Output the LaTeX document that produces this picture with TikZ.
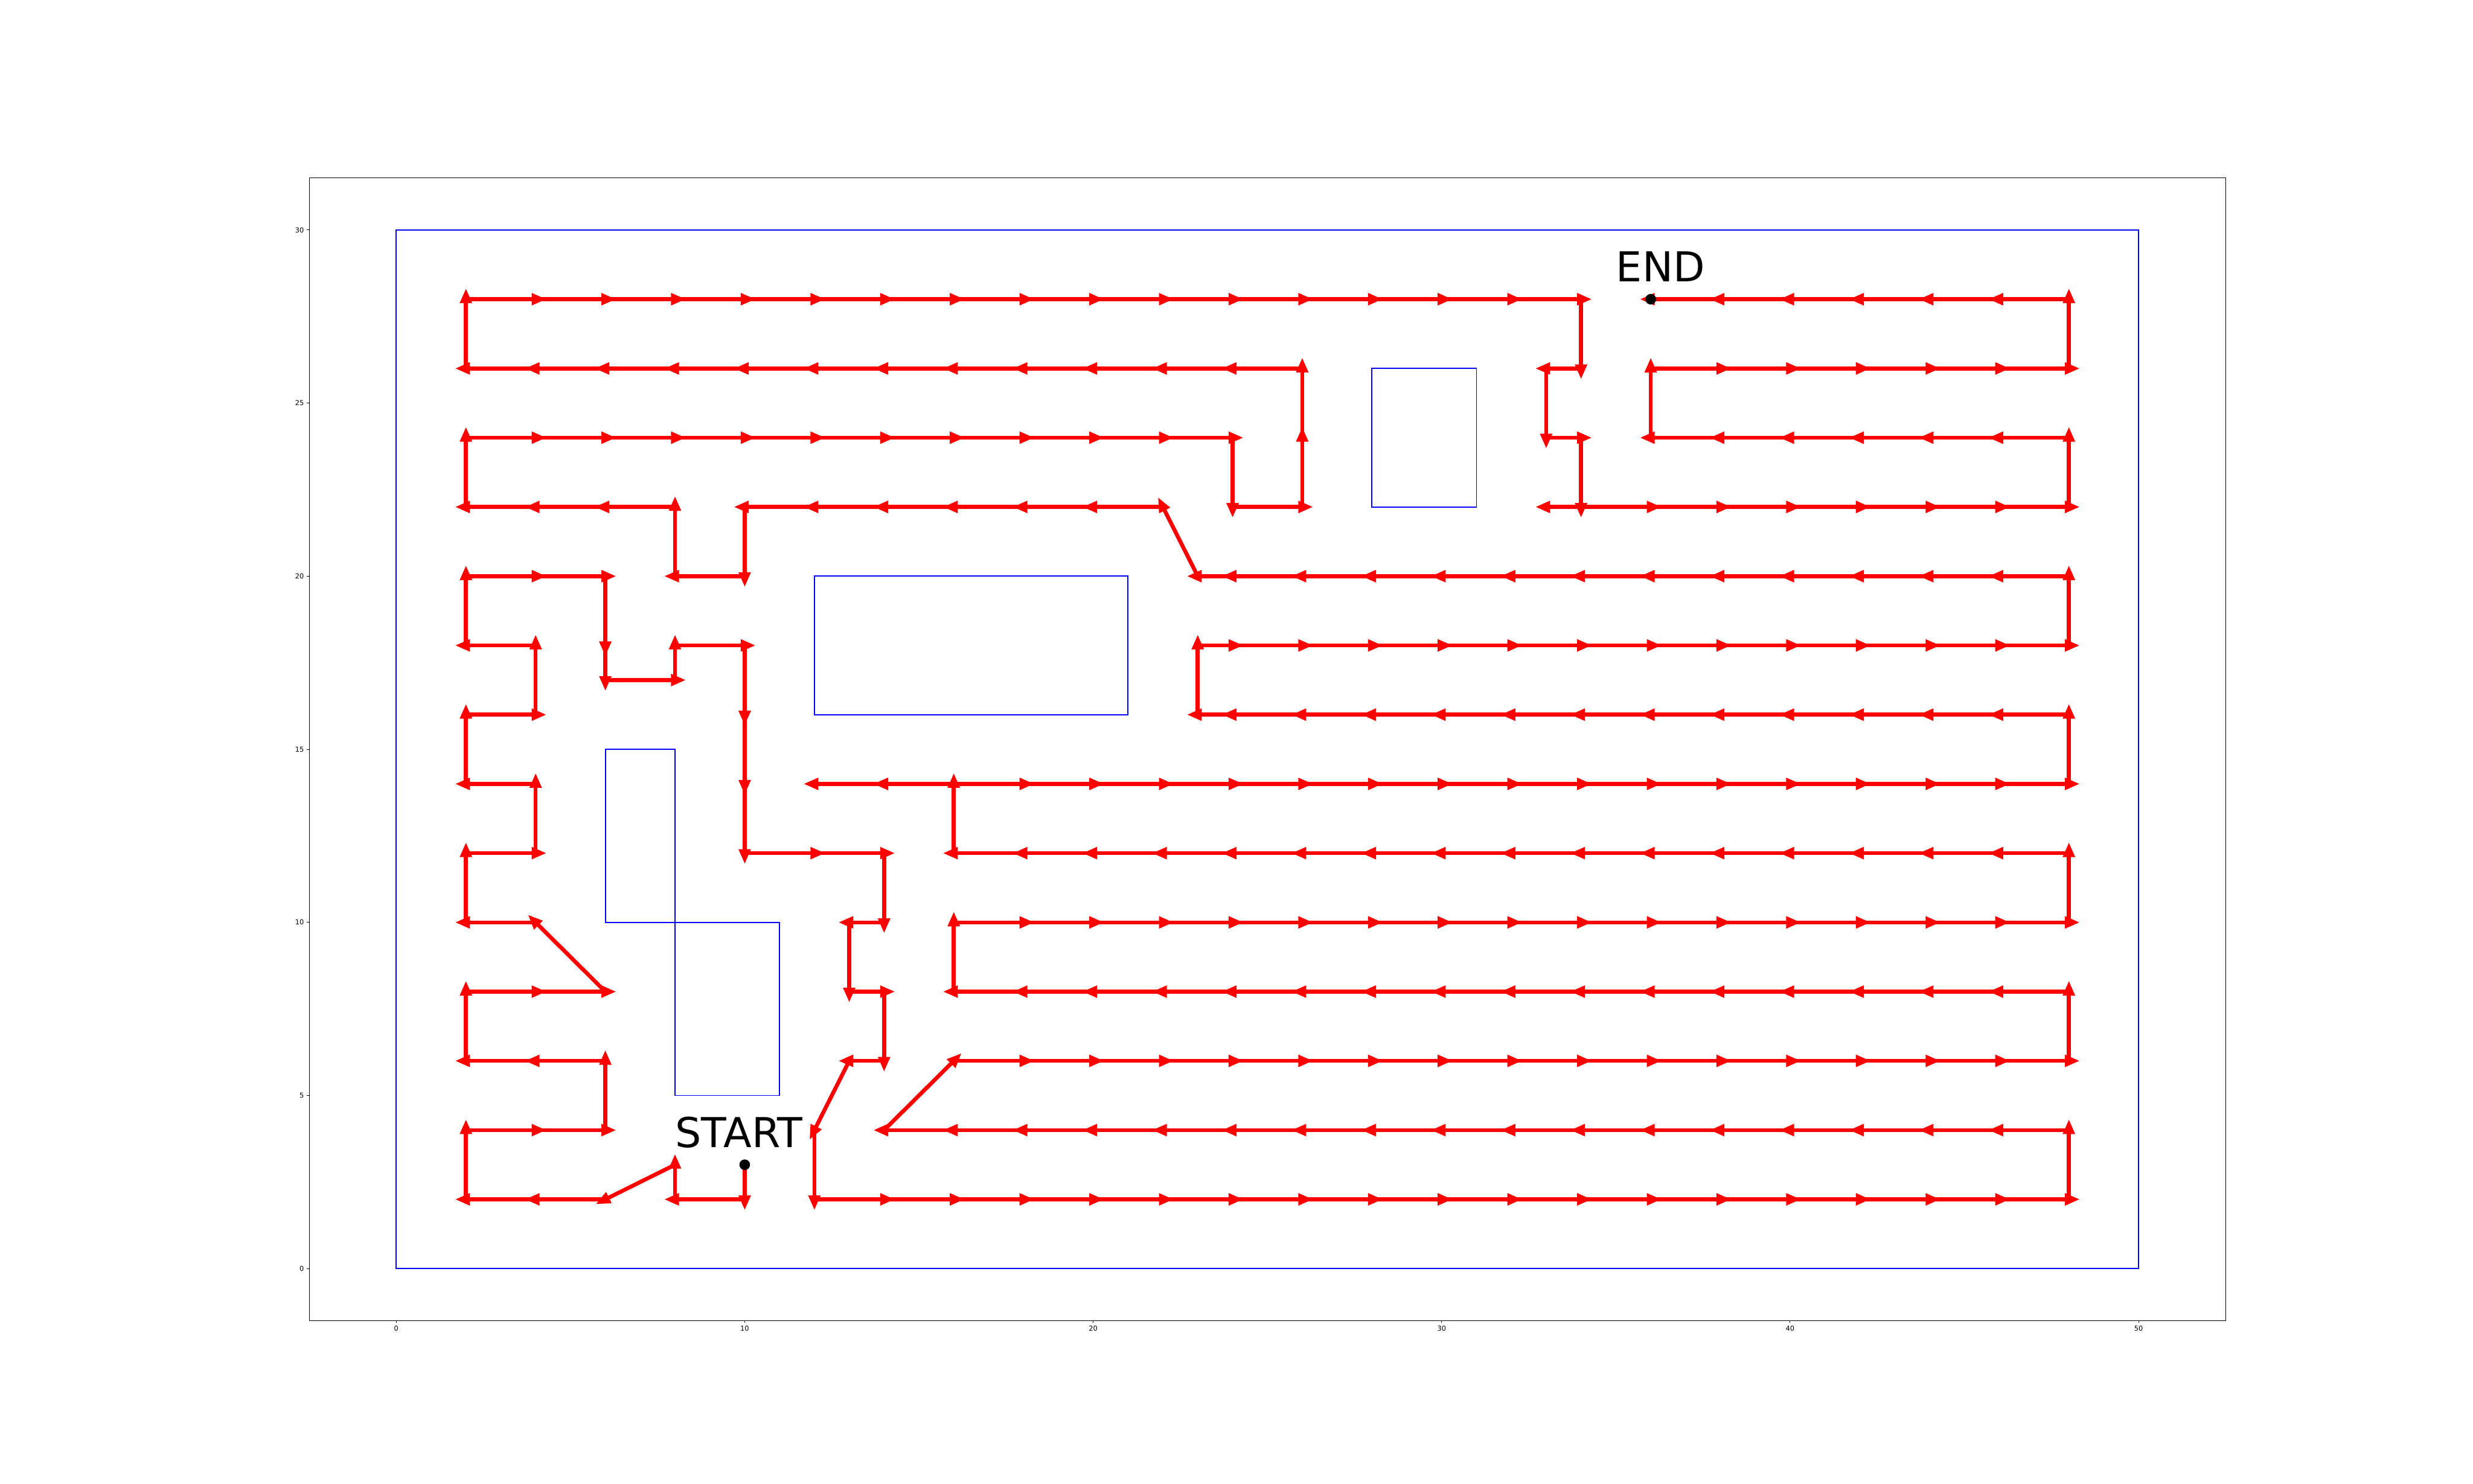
\documentclass[tikz,border=0pt]{standalone}
\usepackage{fontspec}
\setmainfont{DejaVu Sans}
\usetikzlibrary{arrows.meta}

\begin{document}
\begin{tikzpicture}[
      x=0.704545cm, y=0.7cm,
      arr/.style={-{Triangle[length=0.3cm,width=0.23cm]},line width=0.08cm,red,shorten >=-0.22cm},
      obst/.style={draw=blue,line width=0.65pt},
      axframe/.style={draw=black,line width=0.32pt},
      axtick/.style={draw=black,line width=0.32pt},
      ticklbl/.style={font=\fontsize{3.95}{4.7}\selectfont,inner sep=0pt},
      biglbl/.style={font=\fontsize{23.7}{28}\selectfont,inner sep=0pt,anchor=base west},
      wpdot/.style={circle,fill=black,inner sep=0pt,minimum size=0.215cm},
    ]
    \useasboundingbox (-11.371,-6.2143) rectangle (59.597,36.643);
    % axes box and ticks
    \draw[axframe] (-2.5,-1.5) rectangle (52.5,31.5);
    \foreach \t in {0,10,...,50} {
      \draw[axtick] (\t,-1.5) -- ++(0pt,-0.0486cm);
      \node[ticklbl,anchor=north,yshift=-0.0972cm] (xl\t) at (\t,-1.5) {\t};
    }
    \foreach \t in {0,5,...,30} {
      \draw[axtick] (-2.5,\t) -- ++(-0.0486cm,0pt);
      \node[ticklbl,anchor=east,xshift=-0.0972cm] (yl\t) at (-2.5,\t) {\t};
    }
    % field and obstacles
    \draw[obst] (0,0) rectangle (50,30);
    \draw[obst] (28,22) rectangle (31,26);
    \draw[obst] (12,16) rectangle (21,20);
    \draw[obst] (6,10) rectangle (8,15);
    \draw[obst] (8,5) rectangle (11,10);
    % coverage path: legs x1/y1/x2/y2/number of arrows
    \foreach \xa/\ya/\xb/\yb/\n in {
        10/3/10/2/1, 10/2/8/2/1, 8/2/8/3/1, 8/3/6/2/1, 6/2/2/2/2,
        2/2/2/4/1, 2/4/6/4/2, 6/4/6/6/1, 6/6/2/6/2, 2/6/2/8/1,
        2/8/6/8/2, 6/8/4/10/1, 4/10/2/10/1, 2/10/2/12/1, 2/12/4/12/1,
        4/12/4/14/1, 4/14/2/14/1, 2/14/2/16/1, 2/16/4/16/1, 4/16/4/18/1,
        4/18/2/18/1, 2/18/2/20/1, 2/20/6/20/2, 6/20/6/18/1, 6/18/6/17/1,
        6/17/8/17/1, 8/17/8/18/1, 8/18/10/18/1, 10/18/10/12/3, 10/12/14/12/2,
        14/12/14/10/1, 14/10/13/10/1, 13/10/13/8/1, 13/8/14/8/1, 14/8/14/6/1,
        14/6/13/6/1, 13/6/12/4/1, 12/4/12/2/1, 12/2/48/2/18, 48/2/48/4/1,
        48/4/14/4/17, 14/4/16/6/1, 16/6/48/6/16, 48/6/48/8/1, 48/8/16/8/16,
        16/8/16/10/1, 16/10/48/10/16, 48/10/48/12/1, 48/12/16/12/16, 16/12/16/14/1,
        16/14/12/14/2, 12/14/18/14/1, 18/14/48/14/15, 48/14/48/16/1, 48/16/24/16/12,
        24/16/23/16/1, 23/16/23/18/1, 23/18/24/18/1, 24/18/48/18/12, 48/18/48/20/1,
        48/20/24/20/12, 24/20/23/20/1, 23/20/22/22/1, 22/22/10/22/6, 10/22/10/20/1,
        10/20/8/20/1, 8/20/8/22/1, 8/22/2/22/3, 2/22/2/24/1, 2/24/24/24/11,
        24/24/24/22/1, 24/22/26/22/1, 26/22/26/26/2, 26/26/2/26/12, 2/26/2/28/1,
        2/28/34/28/16, 34/28/34/26/1, 34/26/33/26/1, 33/26/33/24/1, 33/24/34/24/1,
        34/24/34/22/1, 34/22/33/22/1, 33/22/36/22/1, 36/22/48/22/6, 48/22/48/24/1,
        48/24/36/24/6, 36/24/36/26/1, 36/26/48/26/6, 48/26/48/28/1, 48/28/36/28/6} {
      \foreach \i in {1,...,\n} {
        \draw[arr] ({\xa+(\xb-\xa)*(\i-1)/\n},{\ya+(\yb-\ya)*(\i-1)/\n})
          -- ({\xa+(\xb-\xa)*\i/\n},{\ya+(\yb-\ya)*\i/\n});
      }
    }
    % start and end
    \node[wpdot] (start) at (10,3) {};
    \node[wpdot] (end) at (36,28) {};
    \node[biglbl] (startlbl) at (8,3.5) {START};
    \node[biglbl] (endlbl) at (35,28.5) {END};
  \end{tikzpicture}
\end{document}
